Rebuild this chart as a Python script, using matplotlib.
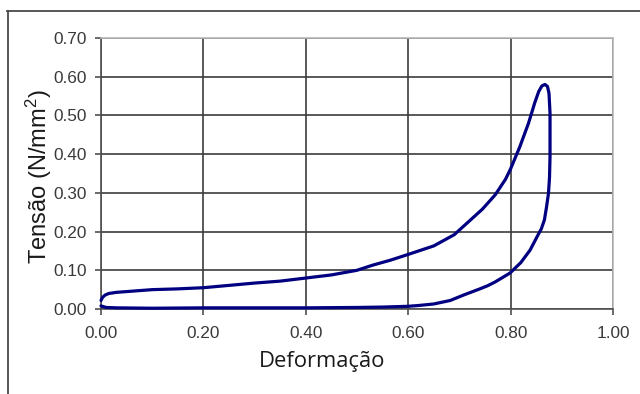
import matplotlib
matplotlib.use("Agg")
import matplotlib.pyplot as plt
from matplotlib.lines import Line2D

# Loading branch (deformation, stress)
load_x = [0.000, 0.003, 0.008, 0.015, 0.030, 0.060, 0.100, 0.150, 0.200, 0.250,
          0.300, 0.350, 0.400, 0.450, 0.500, 0.530, 0.565, 0.600, 0.650, 0.690,
          0.720, 0.745, 0.770, 0.790, 0.800, 0.818, 0.835, 0.847, 0.855, 0.861,
          0.867]
load_y = [0.022, 0.030, 0.036, 0.040, 0.043, 0.046, 0.050, 0.052, 0.055, 0.061,
          0.067, 0.072, 0.080, 0.088, 0.100, 0.113, 0.126, 0.141, 0.163, 0.192,
          0.228, 0.258, 0.295, 0.335, 0.362, 0.419, 0.480, 0.532, 0.562, 0.576,
          0.580]
# Unloading branch
unload_x = [0.872, 0.875, 0.877, 0.877, 0.877, 0.876, 0.874, 0.870, 0.866, 0.860,
            0.853, 0.838, 0.820, 0.799, 0.770, 0.755, 0.740, 0.710, 0.682, 0.650,
            0.620, 0.600, 0.550, 0.500, 0.400, 0.300, 0.200, 0.100, 0.030, 0.010,
            0.000]
unload_y = [0.575, 0.557, 0.506, 0.450, 0.394, 0.340, 0.299, 0.262, 0.230, 0.207,
            0.190, 0.152, 0.120, 0.093, 0.070, 0.060, 0.052, 0.037, 0.022, 0.013,
            0.009, 0.007, 0.005, 0.004, 0.003, 0.003, 0.003, 0.002, 0.003, 0.004,
            0.008]

x_ticks = [0.0, 0.2, 0.4, 0.6, 0.8, 1.0]
y_ticks = [0.0, 0.1, 0.2, 0.3, 0.4, 0.5, 0.6, 0.7]
x_label = "Deformação"
y_label = "Tensão (N/mm$^2$)"

plt.rcParams["mathtext.fontset"] = "custom"
plt.rcParams["mathtext.rm"] = "Liberation Sans"
plt.rcParams["mathtext.it"] = "Liberation Sans"
plt.rcParams["mathtext.bf"] = "Liberation Sans:bold"
plt.rcParams["mathtext.default"] = "rm"

W, H = 640, 394
fig = plt.figure(figsize=(W / 100, H / 100), dpi=100)
fig.patch.set_facecolor("white")

# outer chart frame (cropped at right and bottom)
frame_c = "#4a4a4a"
fig.add_artist(Line2D([7 / W, 1.0], [1 - 10.5 / H, 1 - 10.5 / H], transform=fig.transFigure,
                      color=frame_c, lw=1.3))
fig.add_artist(Line2D([7.5 / W, 7.5 / W], [0.0, 1 - 10.5 / H], transform=fig.transFigure,
                      color=frame_c, lw=1.3))

left, right = 101 / W, 613 / W
bottom, top = 1 - 309 / H, 1 - 38 / H
ax = fig.add_axes([left, bottom, right - left, top - bottom])

xs = load_x + unload_x
ys = load_y + unload_y
ax.plot(xs, ys, color="#000080", lw=2.3, solid_joinstyle="round", solid_capstyle="round",
        zorder=3, clip_on=False)

ax.set_xlim(0, 1.0)
ax.set_ylim(0, 0.7)
ax.set_xticks(x_ticks)
ax.set_yticks(y_ticks)
ax.set_xticklabels([f"{v:.2f}" for v in x_ticks])
ax.set_yticklabels([f"{v:.2f}" for v in y_ticks])

grid_c = "#3c3c3c"
ax.grid(True, color=grid_c, lw=1.2, zorder=1)
ax.set_axisbelow(True)

for s in ["top", "right"]:
    ax.spines[s].set_color("#b8b8b8")
    ax.spines[s].set_linewidth(1.2)
for s in ["left", "bottom"]:
    ax.spines[s].set_color("#505050")
    ax.spines[s].set_linewidth(1.2)

ax.tick_params(axis="both", direction="out", length=4, width=1.2, color="#505050",
               labelcolor="#3a3a3a")
ax.tick_params(axis="x", pad=8)
ax.tick_params(axis="y", pad=6)
for lab in ax.get_xticklabels() + ax.get_yticklabels():
    lab.set_fontfamily(["Liberation Sans", "DejaVu Sans"])
    lab.set_fontsize(12.4)

fig.text(322 / W, 1 - 362 / H, x_label, ha="center", va="center",
         fontsize=15.8, family=["Open Sans", "DejaVu Sans"], color="#1a1a1a")
fig.text(39 / W, 1 - 177 / H, y_label, ha="center", va="center", rotation=90,
         fontsize=17, family=["Liberation Sans", "DejaVu Sans"], color="#1a1a1a")

fig.savefig("out.png", dpi=100, facecolor="white")
